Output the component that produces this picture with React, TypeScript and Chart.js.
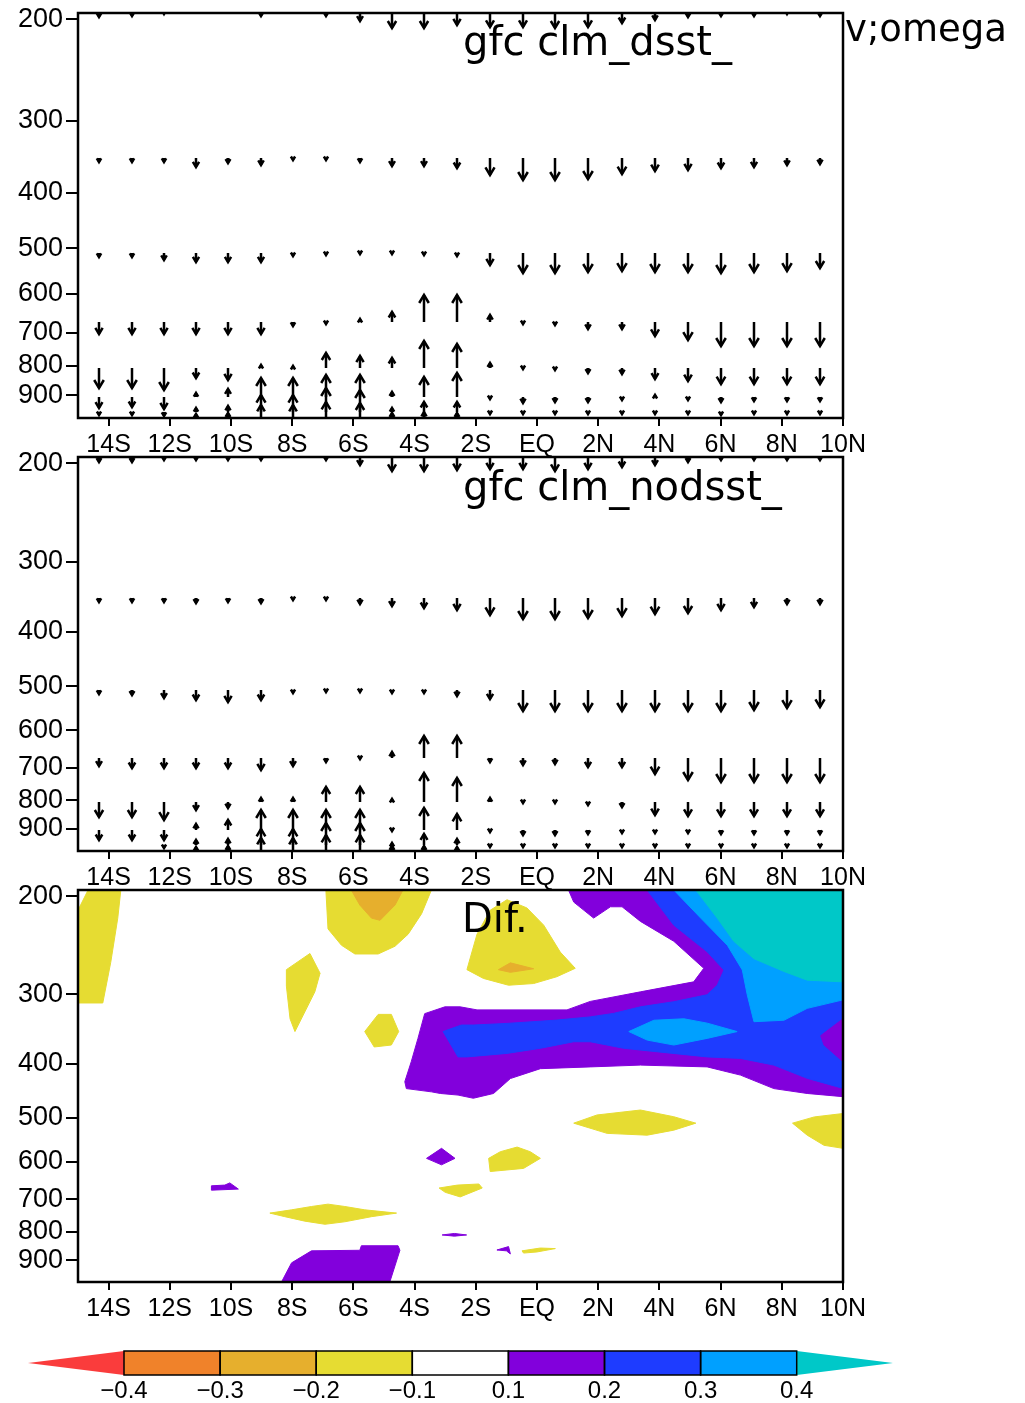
import React, { useEffect, useRef } from 'react';
import { Chart, registerables } from 'chart.js';
Chart.register(...registerables);

// ---------- grid ----------
const LATS = [-14.3, -13.25, -12.2, -11.15, -10.1, -9.03, -7.97, -6.88, -5.8, -4.73, -3.68, -2.6, -1.52, -0.47, 0.6, 1.68, 2.77, 3.86, 4.93, 6.0, 7.08, 8.16, 9.24];
const LEVELS = [195, 348, 509, 672, 805, 904, 960, 985];

// omega (1e-2 Pa/s, positive = sinking) for each level, run "dsst"
const OMEGA_DSST_195 = [2, 1.5, 0.5, 0, 0, 1.5, 0, 1.5, 4, 7.5, 7.5, 6, 7, 7, 7.5, 7, 5, 3.5, 2, 1.5, 1.5, 0.5, 1.5];
const OMEGA_DSST_348 = [2, 2, 2, 4.5, 2.5, 3.5, 1, 1, 2, 4, 4, 5, 8.5, 11, 11, 10.5, 8, 6.5, 6, 5, 4.5, 3.5, 3];
const OMEGA_DSST_509 = [2, 2, 3.5, 4.5, 4.5, 4.5, 1.5, 1, 0.5, 0.5, 1, 1.5, 6, 10, 10, 9.5, 9, 9.5, 9.5, 10, 9.5, 9, 7.5];
const OMEGA_DSST_672 = [6, 6, 6, 6, 6, 6, 2, 1, -1.5, -5, -13.5, -13.5, -3.5, 1, 1.5, 3.5, 3.5, 7, 9, 12, 12, 12, 12];
const OMEGA_DSST_805 = [10, 10, 11, 5, 6, -1.5, -1, -7.5, -6, -5, -13.5, -12, -2.5, 0.5, 1, 2.5, 3, 5.5, 6.5, 8, 8, 8, 8];
const OMEGA_DSST_904 = [5.5, 5, 6, -2, -4, -9.5, -9.5, -11, -11, -2.5, -10, -12, 1, 3, 2.5, 2.5, 1.5, -1, 1.5, 2.5, 2, 2, 2];
const OMEGA_DSST_960 = [1.5, 1.5, 2, -2, -3, -8.5, -8.5, -12, -11, -2, -5, -5, 1, 1, 1, 1, 1, 1, 1, 1.5, 1, 1, 1];
const OMEGA_DSST_985 = [0, 0, 0, -2, -2.5, -6.5, -6.5, -8, -7.5, -2.5, -3, -2.5, 0, 0, 0, 0, 0, 0, 0, 0, 0, 0, 0];

// run "nodsst"
const OMEGA_NODSST_195 = [2.5, 2.5, 1.5, 1.5, 1.5, 1.5, 0, 1.5, 4, 7, 7, 6.5, 6, 6, 7, 6, 5, 4, 2.5, 1.5, 1.5, 1.5, 1.5];
const OMEGA_NODSST_348 = [2, 2, 2, 2.5, 2, 2.5, 1, 1, 3, 4, 5, 6, 8.5, 10.5, 10.5, 10, 9, 8, 7.5, 6, 4.5, 3, 3];
const OMEGA_NODSST_509 = [2, 2.5, 4, 5, 6, 5, 1.5, 1, 1, 1.5, 1.5, 3, 4.5, 10.5, 10.5, 10.5, 10.5, 10.5, 10.5, 10.5, 10, 9, 8.5];
const OMEGA_NODSST_672 = [4, 5, 5, 5, 5, 6, 4, 2, 0.5, -3, -11, -11, 2, 3.5, 3, 4.5, 4.5, 8, 11, 12, 12, 12, 12];
const OMEGA_NODSST_805 = [7.5, 7.5, 9, 4, 3, -2, -2, -7.5, -7.5, -1.5, -14.5, -12, -2, 0.5, 0.5, 1.5, 2.5, 6.5, 7, 7, 7, 7, 7];
const OMEGA_NODSST_904 = [5, 5, 5, -3, -5, -10, -10, -10, -10, 0.5, -11, -8, 1, 2.5, 2.5, 2, 1.5, 1.5, 1.5, 2, 2, 2, 2];
const OMEGA_NODSST_960 = [0, 0, 1.5, -2.5, -3, -8, -8, -11, -11, -1, -5.5, -3, 1, 1, 1, 1, 1, 1, 1, 1, 1, 1, 1];
const OMEGA_NODSST_985 = [0, 0, 0, -2, -2.5, -6.5, -6.5, -8, -8, -2.5, -2.5, -2, 0, 0, 0, 0, 0, 0, 0, 0, 0, 0, 0];

const OMEGA_DSST = [OMEGA_DSST_195, OMEGA_DSST_348, OMEGA_DSST_509, OMEGA_DSST_672, OMEGA_DSST_805, OMEGA_DSST_904, OMEGA_DSST_960, OMEGA_DSST_985];
const OMEGA_NODSST = [OMEGA_NODSST_195, OMEGA_NODSST_348, OMEGA_NODSST_509, OMEGA_NODSST_672, OMEGA_NODSST_805, OMEGA_NODSST_904, OMEGA_NODSST_960, OMEGA_NODSST_985];

// ---------- axes ----------
const X_TICKS = [-14, -12, -10, -8, -6, -4, -2, 0, 2, 4, 6, 8, 10];
const X_TICK_LABELS = ['14S', '12S', '10S', '8S', '6S', '4S', '2S', 'EQ', '2N', '4N', '6N', '8N', '10N'];
const Y_TICKS = [200, 300, 400, 500, 600, 700, 800, 900];
const Y_TICK_LABELS = ['200', '300', '400', '500', '600', '700', '800', '900'];

// ---------- difference shading (class index into CB_COLORS) ----------
const CB_LABELS = ['\u22120.4', '\u22120.3', '\u22120.2', '\u22120.1', '0.1', '0.2', '0.3', '0.4'];
const CB_COLORS = ['#fa3c3c', '#f0822a', '#e6af2d', '#e6dc32', '#ffffff', '#8200dc', '#1e3cff', '#00a0ff', '#00c8c8'];

const DIF_POS_OUTER = [[1.03, 195], [10, 195], [10, 458], [8.83, 452], [7.74, 443], [6.65, 419], [5.56, 405], [3.38, 402], [1.74, 405], [0.11, 408], [-0.87, 425], [-1.42, 452], [-2.08, 461], [-2.58, 455], [-3.16, 452], [-3.45, 449], [-4.27, 443], [-4.32, 430.5], [-4.11, 396.5], [-3.89, 360], [-3.67, 325], [-3.01, 316], [-2.51, 316], [-1.96, 320], [0.98, 320], [1.74, 309], [3.38, 297], [5.12, 285], [5.45, 269.5], [4.47, 241], [3.38, 222], [2.78, 209], [2.4, 209], [1.85, 219], [1.2, 205]];
const DIF_BLUE = [[3.6, 195], [10, 195], [10, 442.6], [8.83, 424.6], [7.74, 402], [6.65, 391], [5.56, 388.6], [3.93, 380.5], [2.83, 375], [1.74, 365], [1.2, 365], [0.11, 375], [-0.98, 383], [-2.29, 388.6], [-2.58, 388.6], [-3.07, 350], [-2.47, 340.7], [-2.08, 340.7], [-0.98, 338.4], [0.65, 333.8], [1.74, 329.4], [2.5, 324.7], [3.38, 316], [4.47, 309.4], [5.56, 300.6], [5.89, 289], [6.11, 271.4], [5.56, 251.7], [4.47, 225.5]];
const DIF_LBLUE_NE = [[4.47, 195], [5.35, 219], [6.22, 245], [6.71, 271.4], [6.87, 300.6], [7.09, 336], [8.07, 334], [8.83, 318], [10, 307], [10, 195]];
const DIF_LBLUE_LENS = [[3.0, 350], [3.82, 334], [4.8, 332], [5.56, 338], [6.54, 350], [5.56, 360], [4.47, 370], [3.6, 362.5]];
const DIF_CYAN = [[5.19, 195], [5.89, 219], [6.43, 241], [7.09, 259], [8.07, 273], [8.83, 283], [10, 285], [10, 195]];
const DIF_PURPLE_E = [[10, 332], [9.27, 356], [9.38, 370], [10, 396.5]];
const DIF_NEG_A = [[-14.67, 195], [-13.6, 195], [-13.7, 219], [-13.93, 263], [-14.19, 311], [-15, 311], [-15, 212]];
const DIF_NEG_B = [[-6.9, 195], [-3.45, 195], [-3.77, 215], [-4.21, 234], [-4.64, 246], [-5.19, 254], [-5.95, 254], [-6.39, 245], [-6.83, 229]];
const DIF_NEG_B2 = [[-6.07, 195], [-4.38, 195], [-4.64, 207.5], [-5.13, 221], [-5.41, 219], [-5.79, 207.5]];
const DIF_NEG_C = [[-8.19, 271], [-7.42, 253.5], [-7.09, 275], [-7.26, 297], [-7.91, 350], [-8.07, 332], [-8.19, 290]];
const DIF_NEG_D = [[-5.63, 350], [-5.19, 326], [-4.76, 326], [-4.52, 350], [-4.76, 370], [-5.32, 373]];
const DIF_POS_E = [[-8.35, 985], [-8.02, 910], [-7.37, 866], [-5.79, 864], [-5.74, 848], [-4.54, 848], [-4.48, 864], [-4.81, 985]];
const DIF_POS_F = [[-10.64, 662], [-10.2, 660], [-10.04, 654], [-9.76, 671], [-10.64, 674]];
const DIF_NEG_G = [[-8.73, 741], [-8.02, 731], [-7.37, 721], [-6.83, 714], [-6.28, 721], [-5.63, 731], [-4.59, 741], [-5.41, 752], [-6.28, 768], [-6.93, 776], [-7.59, 766], [-8.24, 752]];
const DIF_POS_H = [[-3.61, 591], [-3.12, 567], [-2.68, 591], [-3.12, 607]];
const DIF_NEG_I = [[-3.2, 668], [-2.6, 660], [-1.9, 657], [-1.79, 668], [-2.51, 693], [-3.0, 680]];
const DIF_POS_J = [[-3.1, 811], [-2.7, 806], [-2.3, 811], [-2.7, 815]];
const DIF_NEG_K = [[-2.29, 271], [-1.96, 234], [-1.53, 212], [-0.98, 203], [-0.33, 210], [0.22, 225.5], [0.76, 252], [1.25, 269.5], [0.65, 279], [-0.11, 287], [-0.93, 289], [-1.75, 281]];
const DIF_NEG_K2 = [[-1.26, 271], [-0.87, 263.5], [-0.11, 270], [-0.87, 274]];
const DIF_NEG_M = [[1.2, 511], [1.96, 494], [3.38, 484], [4.47, 497.6], [5.19, 511], [4.47, 526], [3.6, 537], [2.29, 533]];
const DIF_NEG_N = [[8.35, 511], [9.06, 498], [10, 491], [10, 567], [9.38, 560], [8.83, 537]];
const DIF_NEG_O = [[-1.58, 591], [-1.2, 575], [-0.65, 564], [-0.22, 575], [0.11, 591], [-0.44, 616], [-1.53, 624]];
const DIF_POS_P = [[-1.31, 863], [-0.93, 851], [-0.87, 877], [-1.0, 866]];
const DIF_NEG_Q = [[-0.49, 866], [0.11, 856], [0.6, 858], [0, 870], [-0.44, 874]];

const SHADE_LAYERS: { cls: number; pts: number[][] }[] = [
  { cls: 5, pts: DIF_POS_OUTER },
  { cls: 6, pts: DIF_BLUE },
  { cls: 7, pts: DIF_LBLUE_NE },
  { cls: 7, pts: DIF_LBLUE_LENS },
  { cls: 8, pts: DIF_CYAN },
  { cls: 5, pts: DIF_PURPLE_E },
  { cls: 3, pts: DIF_NEG_A },
  { cls: 3, pts: DIF_NEG_B },
  { cls: 2, pts: DIF_NEG_B2 },
  { cls: 3, pts: DIF_NEG_C },
  { cls: 3, pts: DIF_NEG_D },
  { cls: 5, pts: DIF_POS_E },
  { cls: 5, pts: DIF_POS_F },
  { cls: 3, pts: DIF_NEG_G },
  { cls: 5, pts: DIF_POS_H },
  { cls: 3, pts: DIF_NEG_I },
  { cls: 5, pts: DIF_POS_J },
  { cls: 3, pts: DIF_NEG_K },
  { cls: 2, pts: DIF_NEG_K2 },
  { cls: 3, pts: DIF_NEG_M },
  { cls: 3, pts: DIF_NEG_N },
  { cls: 3, pts: DIF_NEG_O },
  { cls: 5, pts: DIF_POS_P },
  { cls: 3, pts: DIF_NEG_Q },
];

// ---------- styles ----------
const FONT_TICK = "'Liberation Sans', Arial, sans-serif";
const FONT_TITLE = "'DejaVu Sans', sans-serif";
const ARROW_PX_PER_UNIT = 2;
const W = 1025;

type Txt = { text: string; x: number; y: number; size: number };

function drawArrow(ctx: CanvasRenderingContext2D, x: number, y: number, dy: number) {
  const len = Math.abs(dy);
  if (len < 0.3) return;
  const s = dy > 0 ? 1 : -1;
  const tip = y + dy;
  const h = Math.min(8, Math.max(3.5, 0.3 * len + 2.5));
  const hw = h * 0.6;
  ctx.beginPath();
  ctx.moveTo(x, y);
  ctx.lineTo(x, tip);
  ctx.stroke();
  ctx.beginPath();
  ctx.moveTo(x - hw, tip - s * h);
  ctx.lineTo(x, tip);
  ctx.lineTo(x + hw, tip - s * h);
  ctx.stroke();
}

const framePlugin = {
  id: 'frame',
  afterDraw(chart: any) {
    const { ctx, chartArea: a } = chart;
    ctx.save();
    ctx.strokeStyle = '#000';
    ctx.lineWidth = 2.5;
    ctx.strokeRect(a.left, a.top, a.right - a.left, a.bottom - a.top);
    ctx.restore();
  },
};

const vectorPlugin = {
  id: 'vectors',
  afterDatasetsDraw(chart: any) {
    const xs = chart.scales.x, ys = chart.scales.y, a = chart.chartArea, ctx = chart.ctx;
    ctx.save();
    ctx.beginPath();
    ctx.rect(a.left, a.top, a.right - a.left, a.bottom - a.top);
    ctx.clip();
    ctx.strokeStyle = '#000';
    ctx.lineWidth = 2.5;
    ctx.lineCap = 'butt';
    ctx.lineJoin = 'miter';
    chart.data.datasets.forEach((ds: any) => {
      ds.data.forEach((pt: any) => {
        const x = Math.round(xs.getPixelForValue(pt.x));
        const y = Math.round(ys.getPixelForValue(pt.y));
        drawArrow(ctx, x, y, pt.w * ARROW_PX_PER_UNIT);
      });
    });
    ctx.restore();
  },
};

const textPlugin = (items: Txt[]) => ({
  id: 'texts',
  afterDraw(chart: any) {
    const ctx = chart.ctx;
    ctx.save();
    ctx.fillStyle = '#000';
    ctx.textAlign = 'left';
    ctx.textBaseline = 'alphabetic';
    items.forEach((t) => {
      ctx.font = `${t.size}px ${FONT_TITLE}`;
      ctx.fillText(t.text, t.x, t.y);
    });
    ctx.restore();
  },
});

const colorbarPlugin = (offsetTop: number) => ({
  id: 'colorbar',
  afterDraw(chart: any) {
    const ctx = chart.ctx;
    const x0 = 124, bw = 96.1, top = 1351 - offsetTop, bot = 1375 - offsetTop, mid = (top + bot) / 2;
    const nBox = CB_COLORS.length - 2;
    ctx.save();
    ctx.fillStyle = CB_COLORS[0];
    ctx.beginPath();
    ctx.moveTo(x0, top); ctx.lineTo(28, mid); ctx.lineTo(x0, bot); ctx.closePath(); ctx.fill();
    const xr = x0 + nBox * bw;
    ctx.fillStyle = CB_COLORS[CB_COLORS.length - 1];
    ctx.beginPath();
    ctx.moveTo(xr, top); ctx.lineTo(893, mid); ctx.lineTo(xr, bot); ctx.closePath(); ctx.fill();
    for (let i = 0; i < nBox; i++) {
      ctx.fillStyle = CB_COLORS[i + 1];
      ctx.fillRect(x0 + i * bw, top, bw, bot - top);
    }
    ctx.strokeStyle = '#000';
    ctx.lineWidth = 1.5;
    for (let i = 0; i < nBox; i++) ctx.strokeRect(x0 + i * bw, top, bw, bot - top);
    ctx.fillStyle = '#000';
    ctx.font = `24px ${FONT_TICK}`;
    ctx.textAlign = 'center';
    ctx.textBaseline = 'middle';
    CB_LABELS.forEach((lab, i) => ctx.fillText(lab, x0 + i * bw, 1391 - offsetTop));
    ctx.restore();
  },
});

function makeScales() {
  return {
    x: {
      type: 'linear',
      min: -15,
      max: 10,
      afterBuildTicks: (s: any) => { s.ticks = X_TICKS.map((v) => ({ value: v })); },
      afterFit: (s: any) => { s.height = 42; s.paddingLeft = 0; s.paddingRight = 0; },
      grid: { display: true, drawOnChartArea: false, drawTicks: true, tickLength: 8, color: '#000', lineWidth: 2 },
      border: { display: false },
      ticks: {
        autoSkip: false, maxRotation: 0, minRotation: 0, color: '#000', padding: 4,
        font: { size: 25, family: FONT_TICK },
        callback: (_v: any, i: number) => X_TICK_LABELS[i],
      },
    },
    y: {
      type: 'logarithmic',
      reverse: true,
      min: 195,
      max: 985,
      afterBuildTicks: (s: any) => { s.ticks = Y_TICKS.map((v) => ({ value: v })); },
      afterFit: (s: any) => { s.width = 78; s.paddingTop = 0; s.paddingBottom = 0; },
      grid: { display: true, drawOnChartArea: false, drawTicks: true, tickLength: 12, color: '#000', lineWidth: 2 },
      border: { display: false },
      ticks: {
        autoSkip: false, color: '#000', padding: 3,
        font: { size: 27, family: FONT_TICK },
        callback: (_v: any, i: number) => Y_TICK_LABELS[i],
      },
    },
  };
}

function baseOptions(padTop: number, padBottom: number) {
  return {
    responsive: false,
    animation: false,
    devicePixelRatio: 1,
    events: [],
    layout: { padding: { top: padTop, bottom: padBottom, left: 0, right: W - 843 } },
    plugins: { legend: { display: false }, tooltip: { enabled: false }, title: { display: false } },
    scales: makeScales(),
  };
}

function vectorConfig(omega: number[][], padTop: number, texts: Txt[]): any {
  return {
    type: 'scatter',
    data: {
      datasets: LEVELS.map((lev, k) => ({
        data: LATS.map((lat, i) => ({ x: lat, y: lev, w: omega[k][i] })),
        pointRadius: 0,
        showLine: false,
      })),
    },
    options: baseOptions(padTop, 0),
    plugins: [vectorPlugin, framePlugin, textPlugin(texts)],
  };
}

function shadeConfig(padTop: number, padBottom: number, offsetTop: number, texts: Txt[]): any {
  return {
    type: 'line',
    data: {
      datasets: SHADE_LAYERS.map((layer, i) => ({
        data: [...layer.pts, layer.pts[0]].map(([lat, p]) => ({ x: lat, y: p })),
        borderColor: CB_COLORS[layer.cls],
        backgroundColor: CB_COLORS[layer.cls],
        borderWidth: 1,
        pointRadius: 0,
        tension: 0,
        fill: 'shape',
        order: 1000 - i,
      })),
    },
    options: baseOptions(padTop, padBottom),
    plugins: [framePlugin, textPlugin(texts), colorbarPlugin(offsetTop)],
  };
}

// canvas placement (page px)
const P1_TOP = -10, P1_H = 470;
const P2_TOP = 440, P2_H = 453;
const P3_TOP = 875, P3_H = 528;

export default function App() {
  const r1 = useRef<HTMLCanvasElement>(null);
  const r2 = useRef<HTMLCanvasElement>(null);
  const r3 = useRef<HTMLCanvasElement>(null);

  useEffect(() => {
    Chart.defaults.font.family = FONT_TICK;
    const charts = [
      new Chart(r1.current!, vectorConfig(OMEGA_DSST, 13 - P1_TOP, [
        { text: 'gfc clm_dsst_', x: 463, y: 55 - P1_TOP, size: 40 },
        { text: 'v;omega', x: 845, y: 41 - P1_TOP, size: 37 },
      ])),
      new Chart(r2.current!, vectorConfig(OMEGA_NODSST, 457 - P2_TOP, [
        { text: 'gfc clm_nodsst_', x: 463, y: 500 - P2_TOP, size: 40 },
      ])),
      new Chart(r3.current!, shadeConfig(890 - P3_TOP, P3_H - (1282 - P3_TOP) - 42, P3_TOP, [
        { text: 'Dif.', x: 462, y: 932 - P3_TOP, size: 40 },
      ])),
    ];
    return () => charts.forEach((c) => c.destroy());
  }, []);

  return (
    <div style={{ position: 'absolute', left: 0, top: 0, width: W, height: 1403, overflow: 'hidden', background: '#fff' }}>
      <canvas ref={r1} width={W} height={P1_H} style={{ position: 'absolute', left: 0, top: P1_TOP }} />
      <canvas ref={r2} width={W} height={P2_H} style={{ position: 'absolute', left: 0, top: P2_TOP }} />
      <canvas ref={r3} width={W} height={P3_H} style={{ position: 'absolute', left: 0, top: P3_TOP }} />
    </div>
  );
}
